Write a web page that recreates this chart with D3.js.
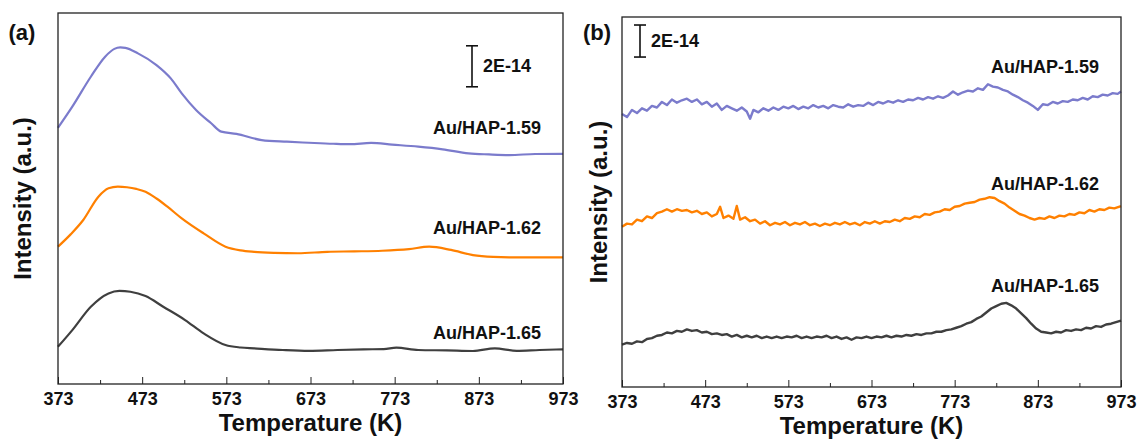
<!DOCTYPE html>
<html>
<head>
<meta charset="utf-8">
<script src="https://cdn.jsdelivr.net/npm/d3@7"></script>
<style>
  body { margin: 0; background: #fff; }
  text { font-family: "Liberation Sans", Arial, sans-serif; font-weight: bold; fill: #111; }
</style>
</head>
<body>
<svg class="chart"></svg>
<script>
var width = 1139, height = 439;

var chart = d3.select(".chart")
    .attr("width", width)
    .attr("height", height);

// tick labels (Temperature, K)
var majorTicks = [373, 473, 573, 673, 773, 873, 973];
var minorTicks = [423, 523, 623, 723, 823, 923];
var seriesNames = ["Au/HAP-1.59", "Au/HAP-1.62", "Au/HAP-1.65"];
var seriesColors = ["#7b7bcc", "#ff8000", "#3f3f3f"];

// panel (a): [T, intensity in 1E-14 units, curves already offset]
var a159 = [[373,12.50],[390,13.53],[412,14.99],[429,15.97],[440,16.35],[447,16.42],[453,16.40],[468,16.13],
    [490,15.56],[507,14.91],[520,14.18],[537,13.37],[555,12.72],[567,12.31],[585,12.20],[615,11.90],
    [645,11.82],[671,11.77],[700,11.72],[720,11.70],[745,11.76],[770,11.68],[801,11.58],[830,11.45],
    [861,11.25],[885,11.20],[909,11.17],[940,11.22],[973,11.23]];
var a162 = [[373,6.70],[388,7.30],[403,8.00],[421,9.14],[433,9.55],[444,9.63],[455,9.60],[466,9.52],[477,9.38],
    [490,9.05],[503,8.65],[520,8.08],[546,7.35],[572,6.70],[590,6.52],[606,6.45],[630,6.40],[658,6.38],
    [693,6.45],[725,6.47],[758,6.50],[790,6.58],[814,6.70],[840,6.54],[866,6.29],[890,6.20],[909,6.18],
    [940,6.18],[973,6.18]];
var a165 = [[373,1.82],[390,2.63],[412,3.77],[433,4.42],[446,4.54],[459,4.50],[477,4.29],[498,3.77],
    [524,3.12],[546,2.47],[572,1.90],[590,1.78],[606,1.74],[640,1.66],[671,1.62],[705,1.66],[736,1.69],
    [760,1.70],[775,1.77],[801,1.66],[835,1.64],[866,1.61],[892,1.74],[918,1.62],[945,1.66],[973,1.69]];

// panel (b)
var b159 = [[373,17.05],[379,16.85],[385,17.30],[391,17.10],[397,17.40],[403,17.25],[409,17.55],[415,17.45],
    [421,17.80],[427,17.60],[433,17.95],[439,17.75],[445,17.90],[451,18.00],[457,17.80],[463,17.95],
    [469,17.65],[475,17.80],[481,17.50],[487,17.70],[493,17.30],[499,17.55],[505,17.40],[511,17.25],
    [517,17.45],[523,17.20],[527,16.75],[531,17.30],[537,17.15],[543,17.40],[549,17.25],[555,17.45],
    [561,17.30],[567,17.50],[573,17.40],[579,17.55],[585,17.35],[591,17.50],[597,17.40],[603,17.60],
    [609,17.45],[615,17.55],[621,17.40],[627,17.60],[633,17.50],[639,17.45],[645,17.65],[651,17.50],
    [657,17.60],[663,17.55],[669,17.75],[675,17.60],[681,17.80],[687,17.70],[693,17.85],[699,17.75],
    [705,17.90],[711,17.80],[717,17.95],[723,17.90],[729,18.05],[735,17.95],[741,18.10],[747,18.00],
    [753,18.15],[759,18.05],[765,18.20],[771,18.45],[777,18.25],[783,18.40],[789,18.50],[795,18.45],
    [801,18.65],[807,18.55],[813,18.90],[819,18.75],[825,18.70],[831,18.55],[837,18.45],[843,18.25],
    [849,18.10],[855,17.90],[861,17.75],[867,17.55],[873,17.30],[879,17.65],[885,17.60],[891,17.80],
    [897,17.70],[903,17.85],[909,17.80],[915,17.95],[921,17.90],[927,18.05],[933,17.95],[939,18.15],
    [945,18.10],[951,18.25],[957,18.20],[963,18.35],[969,18.30],[973,18.45]];
var b162 = [[373,10.00],[379,10.20],[385,10.15],[391,10.45],[397,10.35],[403,10.65],[409,10.55],[415,10.85],
    [421,10.95],[427,11.10],[433,10.95],[439,11.10],[445,11.00],[451,11.05],[457,10.90],[463,11.00],
    [469,10.80],[475,10.90],[481,10.65],[487,10.80],[491,11.25],[495,10.55],[501,10.70],[507,10.50],
    [511,11.30],[515,10.45],[521,10.60],[527,10.35],[533,10.45],[539,10.20],[545,10.35],[551,10.10],
    [557,10.25],[563,10.15],[569,10.30],[575,10.10],[581,10.25],[587,10.15],[593,10.30],[599,10.10],
    [605,10.20],[611,10.05],[617,10.20],[623,10.10],[629,10.25],[635,10.15],[641,10.30],[647,10.15],
    [653,10.25],[659,10.10],[665,10.30],[671,10.20],[677,10.35],[683,10.20],[689,10.35],[695,10.30],
    [701,10.45],[707,10.35],[713,10.55],[719,10.50],[725,10.65],[731,10.60],[737,10.80],[743,10.75],
    [749,10.90],[755,10.95],[761,11.10],[767,11.05],[773,11.25],[779,11.30],[785,11.45],[791,11.50],
    [797,11.55],[803,11.70],[809,11.75],[815,11.85],[821,11.80],[827,11.60],[833,11.45],[839,11.20],
    [845,11.00],[851,10.80],[857,10.70],[863,10.55],[869,10.45],[875,10.55],[881,10.50],[887,10.65],
    [893,10.55],[899,10.70],[905,10.65],[911,10.80],[917,10.75],[923,10.90],[929,10.85],[935,11.05],
    [941,10.95],[947,11.10],[953,11.05],[959,11.20],[965,11.15],[973,11.30]];
var b165 = [[373,2.65],[379,2.75],[385,2.70],[391,2.85],[397,2.80],[403,3.00],[409,3.05],[415,3.20],
    [421,3.25],[427,3.40],[433,3.35],[439,3.50],[445,3.45],[451,3.60],[457,3.50],[463,3.55],[469,3.40],
    [475,3.45],[481,3.30],[487,3.35],[493,3.25],[499,3.30],[505,3.15],[511,3.25],[517,3.10],[523,3.20],
    [529,3.10],[535,3.20],[541,3.05],[547,3.15],[553,3.05],[559,3.15],[565,3.05],[571,3.15],[577,3.10],
    [583,3.20],[589,3.05],[595,3.15],[601,3.05],[607,3.15],[613,3.10],[619,3.20],[625,3.05],[631,3.15],
    [637,3.00],[643,3.10],[649,2.95],[655,3.10],[661,3.05],[667,3.15],[673,3.05],[679,3.15],[685,3.10],
    [691,3.20],[697,3.10],[703,3.20],[709,3.15],[715,3.25],[721,3.20],[727,3.30],[733,3.25],[739,3.35],
    [745,3.35],[751,3.45],[757,3.45],[763,3.55],[769,3.60],[775,3.70],[781,3.80],[787,3.95],[793,4.05],
    [799,4.25],[805,4.40],[811,4.65],[817,4.90],[823,5.05],[829,5.20],[835,5.25],[841,5.10],[847,4.90],
    [853,4.60],[859,4.30],[865,3.95],[871,3.65],[877,3.45],[883,3.40],[889,3.35],[895,3.45],[901,3.40],
    [907,3.55],[913,3.50],[919,3.60],[925,3.55],[931,3.70],[937,3.65],[943,3.80],[949,3.75],[955,3.90],
    [961,3.95],[967,4.05],[973,4.15]];

// label positions in data units (right aligned at end of plot)
var labelsA = [12.2, 7.3, 2.2];
var labelsB = [19.6, 12.3, 5.9];

var panels = [
    {tag: "(a)", left: 58, right: 563, top: 13, bottom: 384, ymax: 18.1, series: [a159, a162, a165],
     smooth: true, labels: labelsA, tagX: 22, titleX: 23, barX: 472, barY: 16.5},
    {tag: "(b)", left: 622, right: 1121, top: 17, bottom: 387, ymax: 23.1, series: [b159, b162, b165],
     smooth: false, labels: labelsB, tagX: 597, titleX: 599, barX: 640, barY: 22.6}
];

panels.forEach(function(p) {
    var x = d3.scaleLinear().domain([373, 973]).range([p.left, p.right]);
    var y = d3.scaleLinear().domain([0, p.ymax]).range([p.bottom, p.top]);
    var g = chart.append("g");

    var line = d3.line()
        .x(function(d) { return x(d[0]); })
        .y(function(d) { return y(d[1]); })
        .curve(p.smooth ? d3.curveMonotoneX : d3.curveLinear);

    p.series.forEach(function(s, i) {
        g.append("path")
            .datum(s)
            .attr("d", line)
            .attr("fill", "none")
            .attr("stroke", seriesColors[i])
            .attr("stroke-width", p.smooth ? 2.2 : 2.4)
            .attr("stroke-linejoin", "round");

        g.append("text")
            .attr("x", p.right - 22)
            .attr("y", y(p.labels[i]))
            .attr("text-anchor", "end")
            .style("font-size", "18px")
            .text(seriesNames[i]);
    });

    // frame
    g.append("rect")
        .attr("x", p.left).attr("y", p.top)
        .attr("width", p.right - p.left).attr("height", p.bottom - p.top)
        .attr("fill", "none").attr("stroke", "#222").attr("stroke-width", 1.3);

    // minor ticks
    g.append("g")
        .attr("transform", "translate(0," + p.bottom + ")")
        .call(d3.axisBottom(x).tickValues(minorTicks).tickSize(-4).tickFormat(""))
        .call(function(ax) { ax.select(".domain").remove(); ax.selectAll("line").attr("stroke", "#222"); });

    // major ticks + labels
    var xa = g.append("g")
        .attr("transform", "translate(0," + p.bottom + ")")
        .call(d3.axisBottom(x).tickValues(majorTicks).tickSize(-7).tickPadding(8).tickFormat(d3.format("d")));
    xa.select(".domain").remove();
    xa.selectAll("line").attr("stroke", "#222");
    xa.selectAll("text")
        .style("font-size", "18px")
        .style("font-family", "'Liberation Sans', Arial, sans-serif")
        .style("font-weight", "bold")
        .attr("fill", "#111");

    g.append("text")
        .attr("x", (p.left + p.right) / 2)
        .attr("y", p.bottom + 47)
        .attr("text-anchor", "middle")
        .style("font-size", "24px")
        .text("Temperature (K)");

    g.append("text")
        .attr("transform", "translate(" + (p.titleX + 8) + "," + (p.top + p.bottom) / 2 + ") rotate(-90)")
        .attr("text-anchor", "middle")
        .style("font-size", "24px")
        .text("Intensity (a.u.)");

    g.append("text")
        .attr("x", p.tagX)
        .attr("y", 40)
        .attr("text-anchor", "middle")
        .style("font-size", "22px")
        .text(p.tag);

    // 2E-14 scale bar (2 units)
    var y0 = y(p.barY), y1 = y(p.barY - 2);
    var bar = g.append("g").attr("stroke", "#111").attr("stroke-width", 1.6);
    bar.append("line").attr("x1", p.barX).attr("x2", p.barX).attr("y1", y0).attr("y2", y1);
    bar.append("line").attr("x1", p.barX - 6).attr("x2", p.barX + 6).attr("y1", y0).attr("y2", y0);
    bar.append("line").attr("x1", p.barX - 6).attr("x2", p.barX + 6).attr("y1", y1).attr("y2", y1);
    g.append("text")
        .attr("x", p.barX + 11)
        .attr("y", (y0 + y1) / 2 + 6)
        .style("font-size", "18px")
        .text("2E-14");
});
</script>
</body>
</html>
